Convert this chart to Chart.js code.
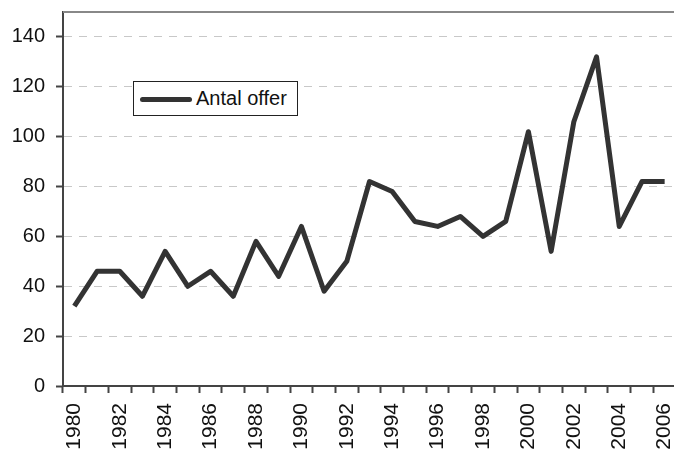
<!DOCTYPE html>
<html>
<head>
<meta charset="utf-8">
<script src="https://cdn.jsdelivr.net/npm/chart.js@4"></script>
<style>
  html, body { margin: 0; padding: 0; overflow: hidden; background: #fff; }
  #wrap { position: absolute; left: 0; top: 0; width: 680px; height: 452px; }
  #legend {
    position: absolute; left: 133px; top: 81px; width: 163px; height: 33px;
    border: 1px solid #222; background: #fff;
    font-family: "Liberation Sans", Arial, sans-serif; font-size: 20px; color: #111;
  }
  #legend .swatch { position: absolute; left: 6px; top: 15px; width: 52px; height: 5px; background: #333; border-radius: 3px; }
  #legend .txt { position: absolute; left: 62px; top: 5px; white-space: nowrap; }
</style>
</head>
<body>
<div id="wrap">
  <canvas id="chart"></canvas>
  <div id="legend"><span class="swatch"></span><span class="txt" id="legendText"></span></div>
</div>
<script>
const years = ['1980','1981','1982','1983','1984','1985','1986','1987','1988','1989',
  '1990','1991','1992','1993','1994','1995','1996','1997','1998','1999',
  '2000','2001','2002','2003','2004','2005','2006'];
const antalOffer = [32, 46, 46, 36, 54, 40, 46, 36, 58, 44,
  64, 38, 50, 82, 78, 66, 64, 68, 60, 66,
  102, 54, 106, 132, 64, 82, 82];
const seriesName = 'Antal offer';
const yMin = 0, yMax = 150, yStep = 20;

document.getElementById('legendText').textContent = seriesName;

const FAMILY = '"Liberation Sans", Arial, sans-serif';

// top frame line of the plot area
const topBorder = {
  id: 'topBorder',
  beforeDatasetsDraw(chart) {
    const { ctx, chartArea } = chart;
    ctx.save();
    ctx.strokeStyle = '#888';
    ctx.lineWidth = 2;
    ctx.beginPath();
    ctx.moveTo(chartArea.left, chartArea.top);
    ctx.lineTo(chartArea.right, chartArea.top);
    ctx.stroke();
    ctx.restore();
  }
};

new Chart(document.getElementById('chart').getContext('2d'), {
  type: 'line',
  data: {
    labels: years,
    datasets: [{
      label: seriesName, data: antalOffer,
      borderColor: '#333', borderWidth: 5, pointRadius: 0,
      tension: 0, borderJoinStyle: 'round', fill: false
    }]
  },
  options: {
    responsive: true, maintainAspectRatio: false, animation: false,
    layout: { padding: { top: 12, right: 4, left: 0, bottom: 0 } },
    plugins: { legend: { display: false }, tooltip: { enabled: false } },
    scales: {
      x: {
        offset: true,
        grid: { offset: true, drawOnChartArea: false, tickLength: 7, tickColor: '#444', tickWidth: 2 },
        border: { color: '#444', width: 2 },
        ticks: {
          autoSkip: false, minRotation: 90, maxRotation: 90, padding: 10,
          color: '#111', font: { family: FAMILY, size: 21 },
          callback: (v, i) => (i % 2 === 0 ? years[i] : '')
        },
        afterFit: s => { s.height = 66; s.paddingLeft = 0; s.paddingRight = 0; }
      },
      y: {
        min: yMin, max: yMax,
        grid: { color: '#c8c8c8', lineWidth: 1, tickLength: 7,
                tickColor: '#444', tickWidth: 2, tickBorderDash: [] },
        border: { color: '#444', width: 2, dash: [8, 7] },
        ticks: { stepSize: yStep, includeBounds: false, padding: 11, color: '#111', font: { family: FAMILY, size: 20 } },
        afterFit: s => { s.width = 63; s.paddingTop = 0; s.paddingBottom = 0; }
      }
    }
  },
  plugins: [topBorder]
});
</script>
</body>
</html>
